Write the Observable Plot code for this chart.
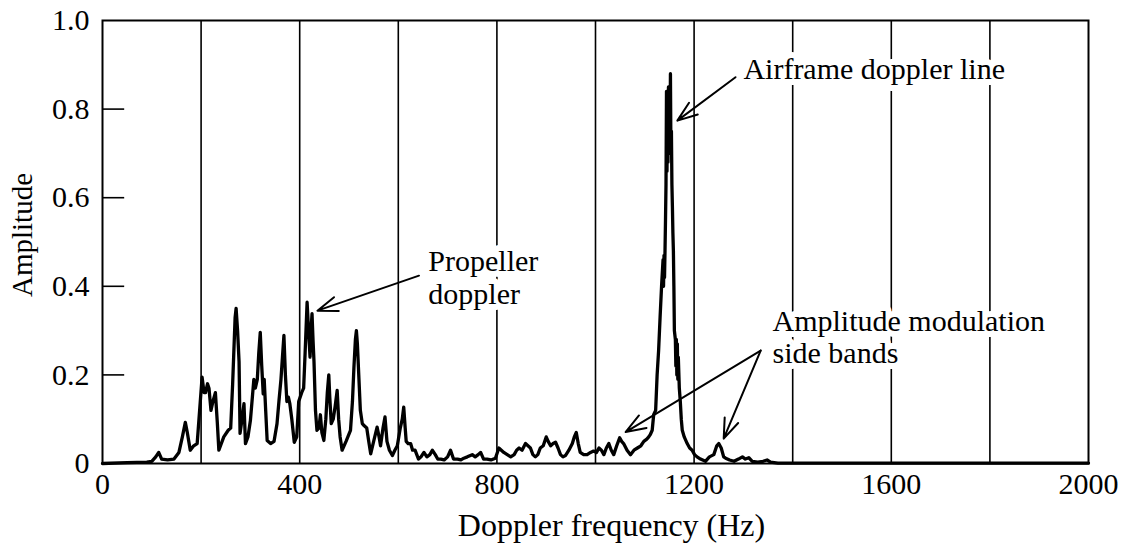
<!DOCTYPE html>
<html><head><meta charset="utf-8">
<script src="https://cdn.jsdelivr.net/npm/d3@7"></script>
<script src="https://cdn.jsdelivr.net/npm/@observablehq/plot@0.6"></script>
<style>
body{margin:0;background:#fff;}
#chart svg{display:block;}
</style></head><body><div id="chart"></div>
<script>
// Doppler frequency (Hz) and amplitude
const freq = [0,50,90,100,108,114,120,132,145,155,162,168,172,178,185,192,197,202,206,209,213,216,220,224,229,233,236,246,255,260,264,266,269,271,274,277,279,283,287,290,295,300,304,307,310,314,317,320,323,326,328,331,334,341,348,354,358,362,365,368,371,374,377,380,384,389,394,398,404,408,411,415,418,421,423,425,427,429,432,435,439,442,445,449,453,456,459,461,464,468,472,476,479,482,486,494,503,507,510,513,515,517,519,523,527,531,536,540,544,550,557,561,564,569,573,577,582,588,593,598,604,608,611,614,616,620,625,629,634,641,646,652,658,664,669,675,680,686,693,700,706,712,720,727,733,740,750,756,762,767,773,780,788,797,804,809,814,821,828,835,840,845,851,858,863,868,873,878,883,888,894,900,904,909,914,919,924,929,934,939,946,953,957,961,965,969,976,983,990,996,1002,1007,1012,1017,1022,1027,1032,1037,1043,1049,1053,1057,1064,1071,1078,1085,1092,1098,1104,1108,1111,1115,1118,1122,1125,1128,1131,1134,1136,1137,1138,1139,1140,1141,1142,1143,1144,1145,1146,1147,1148,1149,1150,1151,1152,1153,1154,1155,1156,1157,1158,1159,1160,1162,1163,1164,1165,1166,1167,1168,1170,1172,1174,1176,1180,1186,1191,1196,1201,1206,1213,1223,1231,1240,1246,1250,1255,1260,1264,1272,1281,1290,1298,1304,1311,1318,1329,1340,1348,1355,1370,2000];
const amp = [0,0.002,0.003,0.005,0.015,0.025,0.01,0.008,0.01,0.025,0.06,0.093,0.07,0.03,0.04,0.045,0.12,0.195,0.16,0.16,0.18,0.17,0.12,0.14,0.16,0.09,0.03,0.06,0.075,0.08,0.18,0.24,0.33,0.35,0.30,0.23,0.068,0.1,0.135,0.045,0.06,0.097,0.15,0.19,0.17,0.19,0.25,0.296,0.22,0.157,0.19,0.12,0.052,0.045,0.05,0.09,0.142,0.19,0.24,0.289,0.2,0.14,0.15,0.135,0.1,0.048,0.06,0.14,0.16,0.17,0.25,0.364,0.3,0.24,0.3,0.338,0.28,0.23,0.12,0.075,0.08,0.11,0.07,0.052,0.1,0.16,0.2,0.15,0.09,0.1,0.13,0.165,0.1,0.06,0.03,0.05,0.075,0.14,0.217,0.28,0.3,0.27,0.22,0.12,0.09,0.085,0.08,0.05,0.022,0.05,0.082,0.06,0.04,0.08,0.105,0.05,0.03,0.018,0.03,0.04,0.08,0.1,0.127,0.08,0.05,0.045,0.045,0.03,0.03,0.01,0.015,0.025,0.015,0.02,0.03,0.02,0.01,0.01,0.008,0.015,0.03,0.01,0.01,0.008,0.012,0.015,0.02,0.015,0.02,0.025,0.01,0.01,0.008,0.012,0.035,0.03,0.025,0.02,0.015,0.02,0.03,0.035,0.03,0.045,0.04,0.035,0.02,0.015,0.02,0.035,0.04,0.06,0.05,0.04,0.045,0.048,0.035,0.02,0.015,0.018,0.03,0.045,0.06,0.07,0.045,0.025,0.02,0.02,0.025,0.028,0.025,0.035,0.03,0.02,0.035,0.045,0.03,0.02,0.04,0.058,0.05,0.045,0.03,0.02,0.03,0.035,0.04,0.05,0.055,0.06,0.065,0.075,0.11,0.12,0.2,0.255,0.33,0.4,0.44,0.46,0.40,0.47,0.42,0.48,0.55,0.63,0.84,0.66,0.80,0.68,0.85,0.70,0.80,0.72,0.88,0.70,0.75,0.63,0.58,0.52,0.48,0.40,0.30,0.28,0.22,0.28,0.20,0.27,0.19,0.24,0.17,0.14,0.10,0.075,0.06,0.045,0.035,0.03,0.02,0.015,0.01,0.005,0.015,0.02,0.04,0.045,0.035,0.015,0.012,0.008,0.005,0.01,0.015,0.01,0.013,0.005,0.003,0.005,0.008,0.003,0.001,0.001];

const gridX = [200,400,600,800,1000,1200,1400,1600,1800];
const xTicks = [0,400,800,1200,1600,2000];
const yTicks = [0,0.2,0.4,0.6,0.8,1.0];
const yInnerTicks = [0.2,0.4,0.6,0.8];
const xTitle = "Doppler frequency (Hz)";
const yTitle = "Amplitude";

// annotations
const noteText = ["Airframe doppler line", "Propeller\ndoppler", "Amplitude modulation\nside bands"];
const noteX = [1300, 661, 1359];
const noteY = [0.867, 0.361, 0.226];
const arrowFromX = [1284, 642, 1335, 1335];
const arrowFromY = [0.872, 0.424, 0.255, 0.255];
const arrowToX = [1166, 436, 1061, 1260];
const arrowToY = [0.774, 0.345, 0.071, 0.056];

const data = freq.map((f, i) => ({f, a: amp[i]}));
const notes = noteText.map((t, i) => ({t, x: noteX[i], y: noteY[i]}));
const arrows = arrowFromX.map((x1, i) => ({x1, y1: arrowFromY[i], x2: arrowToX[i], y2: arrowToY[i]}));

const chart = Plot.plot({
  width: 1123, height: 543,
  marginLeft: 102, marginRight: 35, marginTop: 20, marginBottom: 80,
  style: {fontFamily: "'Liberation Serif', 'Times New Roman', serif", fontSize: "29px", color: "black", background: "white"},
  x: {domain: [0, 2000]},
  y: {domain: [0, 1]},
  marks: [
    Plot.ruleX(gridX, {stroke: "black", strokeWidth: 1.6}),
    Plot.ruleY(yInnerTicks, {x1: 0, x2: 45, stroke: "black", strokeWidth: 1.6}),
    Plot.text(notes, {x: "x", y: "y", text: "t", textAnchor: "start", lineAnchor: "bottom", lineHeight: 1.07, fill: "black", stroke: "white", strokeWidth: 12, fontSize: 30}),
    Plot.line(data, {x: "f", y: "a", stroke: "black", strokeWidth: 3.3, strokeLinejoin: "round"}),
    Plot.frame({stroke: "black", strokeWidth: 2}),
    Plot.axisX(xTicks, {tickSize: 0, tickPadding: 9, label: null, fontSize: 30, tickFormat: d => String(d)}),
    Plot.axisY(yTicks, {tickSize: 0, tickPadding: 13, label: null, fontSize: 30, tickFormat: d => d === 0 ? "0" : d.toFixed(1)}),
    Plot.text([xTitle], {frameAnchor: "bottom", textAnchor: "middle", lineAnchor: "bottom", dx: 16, dy: 72, fontSize: 32}),
    Plot.text([yTitle], {frameAnchor: "left", textAnchor: "middle", rotate: -90, dx: -80, dy: -7, fontSize: 29}),
    Plot.arrow(arrows, {x1: "x1", y1: "y1", x2: "x2", y2: "y2", stroke: "black", strokeWidth: 2, headLength: 16, headAngle: 40})
  ]
});
document.getElementById("chart").append(chart);
</script></body></html>
